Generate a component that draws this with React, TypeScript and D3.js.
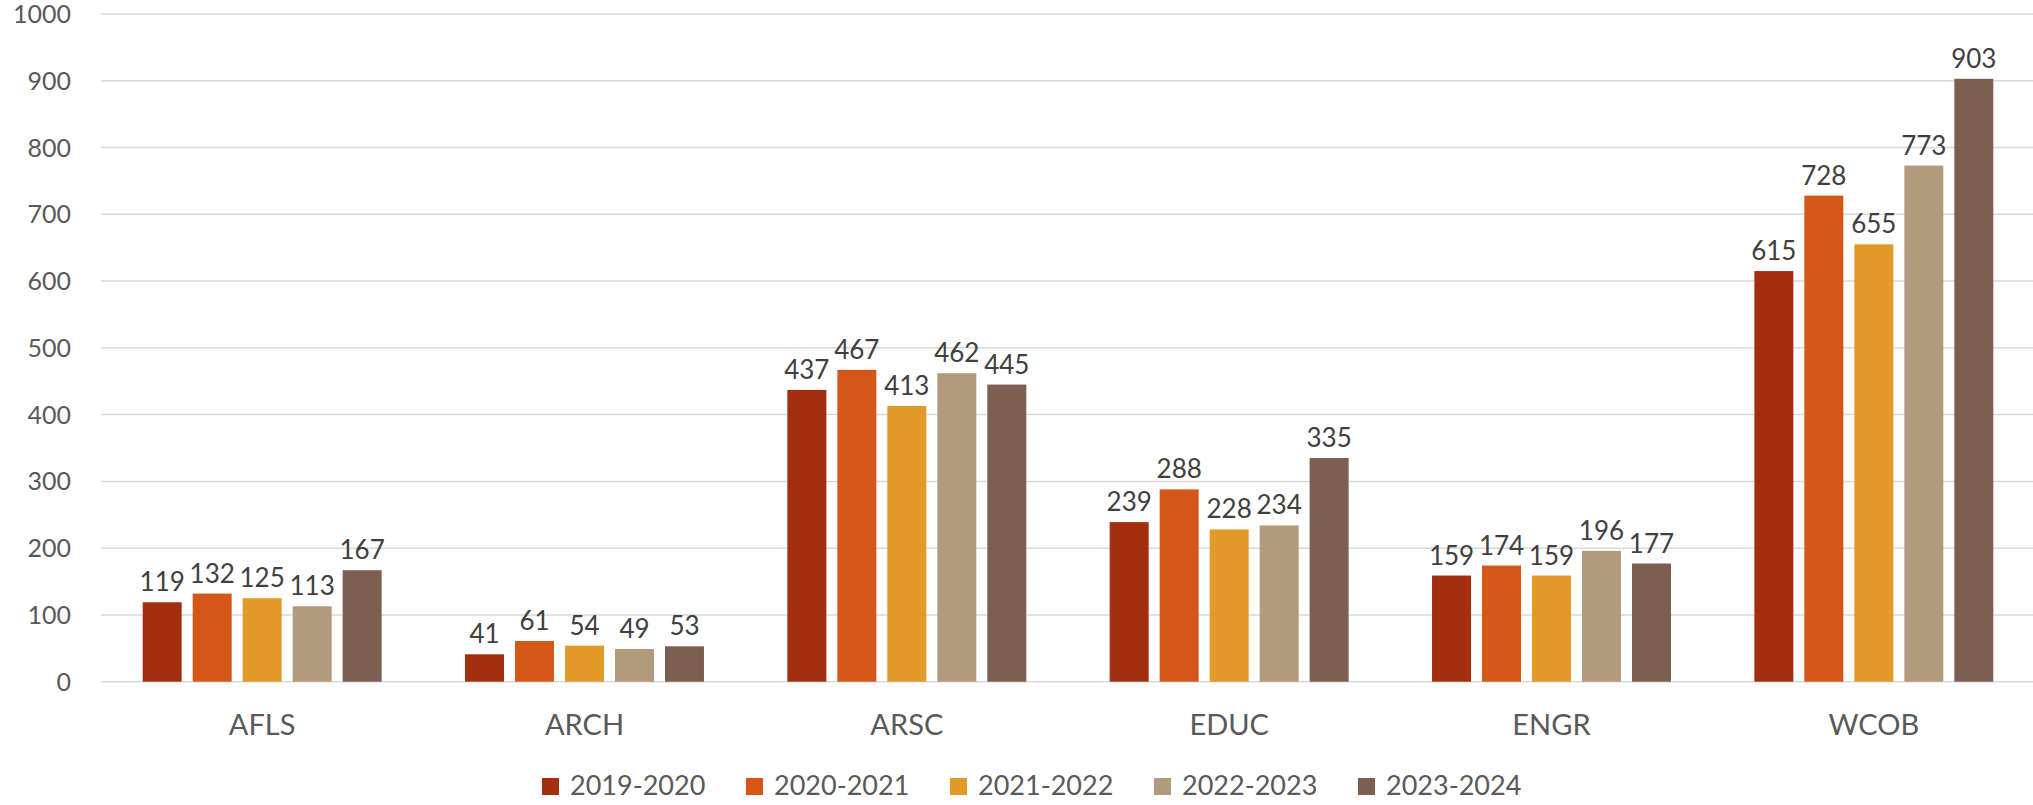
import React from "react";
import * as d3 from "d3";

const categories = ["AFLS", "ARCH", "ARSC", "EDUC", "ENGR", "WCOB"];
const seriesNames = ["2019-2020", "2020-2021", "2021-2022", "2022-2023", "2023-2024"];
const colors = ["#a32f10", "#d55718", "#e19a27", "#b29b7c", "#7d5f52"];
const v2019 = [119, 41, 437, 239, 159, 615];
const v2020 = [132, 61, 467, 288, 174, 728];
const v2021 = [125, 54, 413, 228, 159, 655];
const v2022 = [113, 49, 462, 234, 196, 773];
const v2023 = [167, 53, 445, 335, 177, 903];
const seriesValues = [v2019, v2020, v2021, v2022, v2023];
const yTicks = [0, 100, 200, 300, 400, 500, 600, 700, 800, 900, 1000];

const W = 2033;
const H = 805;
const FONT = "Lato, 'Open Sans', sans-serif";

export default function App() {
  const x0 = d3.scaleBand<string>().domain(categories).range([101, 2035]).paddingInner(0).paddingOuter(0);
  const x1 = d3
    .scaleBand<string>()
    .domain(seriesNames)
    .range([0, x0.bandwidth()])
    .paddingInner(0.22)
    .paddingOuter(0.834);
  const y = d3.scaleLinear().domain([0, 1000]).range([681.7, 14]);

  return (
    <svg
      width={W}
      height={H}
      style={{ position: "absolute", left: 0, top: 0, display: "block", background: "#fff" }}
      fontFamily={FONT}
    >
      {yTicks.map((t) => (
        <g key={t}>
          <line x1={101} x2={W} y1={y(t)} y2={y(t)} stroke="#d9d9d9" strokeWidth={1.5} />
          <text x={71} y={y(t) + 9} textAnchor="end" fontSize={25} fill="#595959">
            {t}
          </text>
        </g>
      ))}
      {categories.map((c, ci) => (
        <g key={c} transform={`translate(${x0(c)},0)`}>
          {seriesNames.map((s, si) => {
            const v = seriesValues[si][ci];
            const bx = x1(s) as number;
            return (
              <g key={s}>
                <rect x={bx} y={y(v)} width={x1.bandwidth()} height={y(0) - y(v)} fill={colors[si]} />
                <text
                  x={bx + x1.bandwidth() / 2}
                  y={y(v) - 11}
                  textAnchor="middle"
                  fontSize={26}
                  fill="#404040"
                >
                  {v}
                </text>
              </g>
            );
          })}
          <text x={x0.bandwidth() / 2} y={735} textAnchor="middle" fontSize={29} fill="#595959">
            {c}
          </text>
        </g>
      ))}
      {seriesNames.map((s, si) => {
        const lx = 542 + si * 204;
        return (
          <g key={s}>
            <rect x={lx} y={778} width={17} height={17} fill={colors[si]} />
            <text x={lx + 28} y={795} fontSize={27} fill="#595959">
              {s}
            </text>
          </g>
        );
      })}
    </svg>
  );
}
